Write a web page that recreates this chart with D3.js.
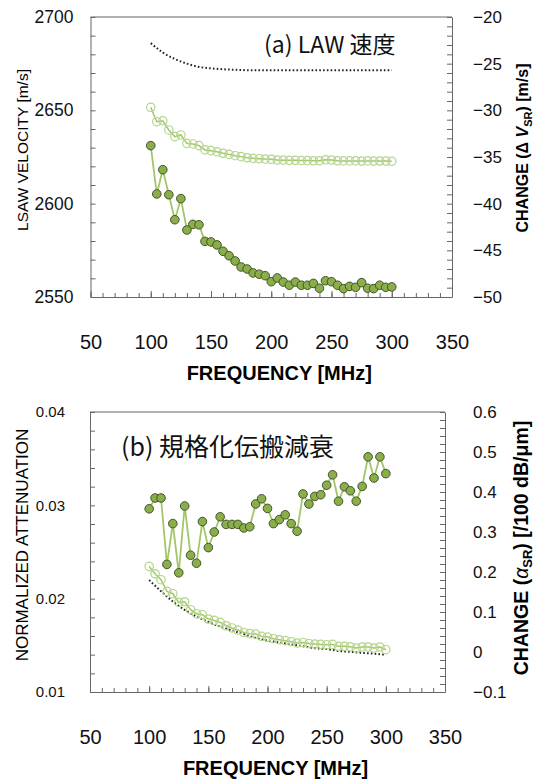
<!DOCTYPE html>
<html>
<head>
<meta charset="utf-8">
<script src="https://cdn.jsdelivr.net/npm/d3@7"></script>
<style>
  body { margin: 0; background: #fff; }
  svg { display: block; font-family: "Liberation Sans", Arial, sans-serif; }
</style>
</head>
<body>
<div id="chart"></div>
<script>
// frequencies (MHz)
var freq = [100, 105, 110, 115, 120, 125, 130, 135, 140, 145, 150, 155, 160, 165, 170, 175, 180, 185, 190, 195,
            200, 205, 210, 215, 220, 225, 230, 235, 240, 245, 250, 255, 260, 265, 270, 275, 280, 285, 290, 295, 300];
var freqCoarse = [100, 110, 120, 130, 140, 150, 160, 170, 180, 190, 200, 210, 220, 230, 240, 250, 260, 270, 280, 290, 300];

// (a) LSAW velocity [m/s]
var velMeasured = [2631.1, 2605.2, 2618.2, 2604.8, 2591.4, 2602.7, 2585.9, 2588.9, 2588.7, 2579.8, 2579.5,
                   2577.9, 2574.5, 2572.1, 2569.3, 2566.1, 2565.0, 2562.9, 2562.2, 2561.4, 2558.2, 2560.2,
                   2558.0, 2556.3, 2558.0, 2556.3, 2556.3, 2557.3, 2554.7, 2558.7, 2558.2, 2556.3, 2554.5,
                   2555.7, 2555.2, 2557.7, 2554.7, 2554.5, 2556.3, 2555.2, 2555.4];
var velCorrected = [2651.6, 2643.9, 2644.4, 2639.5, 2635.9, 2636.8, 2632.3, 2632.0, 2631.1, 2628.8, 2628.4,
                    2627.8, 2627.0, 2626.4, 2625.7, 2625.2, 2624.6, 2624.3, 2624.1, 2623.9, 2623.8, 2623.4,
                    2623.3, 2623.2, 2623.2, 2623.1, 2623.1, 2623.0, 2623.0, 2623.5, 2623.4, 2623.0, 2622.9,
                    2622.9, 2622.9, 2622.8, 2622.9, 2622.8, 2622.8, 2622.8, 2622.7];
// (a) change ΔV_SR [m/s]
var velChange = [-22.8, -23.8, -24.5, -25.0, -25.35, -25.5, -25.6, -25.65, -25.7, -25.7, -25.7,
                 -25.7, -25.7, -25.7, -25.7, -25.7, -25.7, -25.7, -25.7, -25.7, -25.7];

// (b) normalized attenuation
var attCorrected = [0.02346, 0.02267, 0.02203, 0.02078, 0.02053, 0.0196, 0.01967, 0.01882, 0.01839, 0.01828,
                    0.01782, 0.01767, 0.01746, 0.0171, 0.01686, 0.01664, 0.01638, 0.01625, 0.01621, 0.01596,
                    0.01589, 0.01571, 0.0156, 0.0155, 0.01539, 0.01525, 0.01531, 0.0152, 0.01514, 0.0151,
                    0.01507, 0.0151, 0.01489, 0.01489, 0.01485, 0.01471, 0.01482, 0.01482, 0.01471, 0.01482, 0.01453];
var attDiffraction = [0.0220, 0.0208, 0.0197, 0.0188, 0.0181, 0.0175, 0.0170, 0.0166, 0.0162, 0.0158, 0.0155,
                      0.0153, 0.0151, 0.0149, 0.0147, 0.0146, 0.0144, 0.0143, 0.0142, 0.0141, 0.0140];
// (b) change α_SR [/100 dB/μm]
var attChange = [0.358, 0.385, 0.385, 0.219, 0.321, 0.198, 0.365, 0.242, 0.222, 0.326, 0.261,
                 0.300, 0.338, 0.319, 0.319, 0.319, 0.310, 0.313, 0.370, 0.383, 0.359, 0.321,
                 0.331, 0.343, 0.321, 0.302, 0.395, 0.370, 0.389, 0.393, 0.417, 0.443, 0.377,
                 0.413, 0.403, 0.377, 0.414, 0.488, 0.435, 0.488, 0.446];

var xTicks = [50, 100, 150, 200, 250, 300, 350];

var W = 539, H = 783;
var axisColor = '#666';
var lineGreen = '#a3c66a';
var dotFill = '#8aae4a';
var dotStroke = '#44532a';
var openStroke = '#b4d48c';

var svg = d3.select('#chart').append('svg').attr('width', W).attr('height', H);

function drawPanel(p) {
    var g = svg.append('g');
    var x = d3.scaleLinear().domain([50, 350]).range([p.left, p.right]);
    var yL = d3.scaleLinear().domain(p.leftDomain).range([p.bottom, p.top]);
    var yR = d3.scaleLinear().domain(p.rightDomain).range([p.bottom, p.top]);

    // frame top
    g.append('line').attr('x1', p.left).attr('x2', p.right).attr('y1', p.top).attr('y2', p.top)
        .attr('stroke', axisColor);

    // x axis: minor ticks, major ticks, labels
    var xMinor = d3.range(50, 351, 10);
    g.append('g').attr('transform', 'translate(0,' + p.bottom + ')')
        .call(d3.axisBottom(x).tickValues(xMinor).tickSize(-4).tickSizeOuter(0).tickFormat(''))
        .call(function (a) { a.selectAll('line,path').attr('stroke', axisColor); });
    g.append('g').attr('transform', 'translate(0,' + p.bottom + ')')
        .call(d3.axisBottom(x).tickValues(xTicks).tickSize(-6).tickSizeOuter(0).tickPadding(38))
        .call(function (a) {
            a.select('.domain').remove();
            a.selectAll('line').attr('stroke', axisColor);
            a.selectAll('text').attr('font-size', 20).attr('fill', '#111');
        });

    // left axis
    g.append('g').attr('transform', 'translate(' + p.left + ',0)')
        .call(d3.axisLeft(yL).tickValues(p.leftMinor).tickSize(-5).tickSizeOuter(0).tickFormat(''))
        .call(function (a) { a.selectAll('line,path').attr('stroke', axisColor); });
    g.append('g').attr('transform', 'translate(' + p.left + ',0)')
        .call(d3.axisLeft(yL).tickValues(p.leftTicks).tickSize(0).tickPadding(p.leftPad).tickFormat(p.leftFmt))
        .call(function (a) {
            a.select('.domain').remove();
            a.selectAll('text').attr('font-size', p.leftFont).attr('fill', '#111');
        });

    // right axis
    g.append('g').attr('transform', 'translate(' + p.right + ',0)')
        .call(d3.axisRight(yR).tickValues(p.rightMinor).tickSize(-5).tickSizeOuter(0).tickFormat(''))
        .call(function (a) { a.selectAll('line,path').attr('stroke', axisColor); });
    g.append('g').attr('transform', 'translate(' + p.right + ',0)')
        .call(d3.axisRight(yR).tickValues(p.rightTicks).tickSize(0).tickPadding(p.rightPad).tickFormat(p.rightFmt))
        .call(function (a) {
            a.select('.domain').remove();
            a.selectAll('text').attr('font-size', 17).attr('fill', '#111');
        });

    // axis titles
    g.append('text').attr('x', (p.left + p.right) / 2 + 8).attr('y', p.bottom + 83)
        .attr('text-anchor', 'middle').attr('font-size', 20).attr('font-weight', 'bold')
        .text('FREQUENCY [MHz]');
    g.append('text').attr('transform', 'translate(28,' + p.leftTitleY + ') rotate(-90)')
        .attr('text-anchor', 'middle').attr('font-size', p.leftTitleFont).text(p.leftTitle);
    var rt = g.append('text').attr('transform', 'translate(528,' + p.rightTitleY + ') rotate(-90)')
        .attr('text-anchor', 'middle').attr('font-size', p.rightTitleFont).attr('font-weight', 'bold');
    p.rightTitle(rt);

    // panel caption
    g.append('text').attr('x', p.capX).attr('y', p.capY)
        .attr('font-family', '"Noto Sans CJK JP", sans-serif').attr('font-size', p.capFont)
        .attr('fill', '#111').text(p.caption);

    // dotted curve
    g.append('path').datum(p.dotted)
        .attr('fill', 'none').attr('stroke', '#222').attr('stroke-width', 2)
        .attr('stroke-dasharray', '1.6,2.2')
        .attr('d', d3.line().curve(d3.curveMonotoneX)
            .x(function (d, i) { return x(freqCoarse[i]); })
            .y(function (d) { return p.dottedScale === 'R' ? yR(d) : yL(d); }));

    // open circles series
    var yO = p.openScale === 'R' ? yR : yL;
    g.append('path').datum(p.open)
        .attr('fill', 'none').attr('stroke', lineGreen).attr('stroke-width', 1.5)
        .attr('d', d3.line().x(function (d, i) { return x(freq[i]); }).y(function (d) { return yO(d); }));
    g.selectAll('.open').data(p.open).enter().append('circle')
        .attr('cx', function (d, i) { return x(freq[i]); })
        .attr('cy', function (d) { return yO(d); })
        .attr('r', 4.2).attr('fill', 'none').attr('stroke', openStroke).attr('stroke-width', 1.2);

    // filled circles series
    var yF = p.filledScale === 'R' ? yR : yL;
    g.append('path').datum(p.filled)
        .attr('fill', 'none').attr('stroke', lineGreen).attr('stroke-width', 1.8)
        .attr('d', d3.line().x(function (d, i) { return x(freq[i]); }).y(function (d) { return yF(d); }));
    g.selectAll('.filled').data(p.filled).enter().append('circle')
        .attr('cx', function (d, i) { return x(freq[i]); })
        .attr('cy', function (d) { return yF(d); })
        .attr('r', 4.3).attr('fill', dotFill).attr('stroke', dotStroke).attr('stroke-width', 1);
}

drawPanel({
    left: 90.5, right: 452, top: 17, bottom: 297,
    leftDomain: [2550, 2700], rightDomain: [-50, -20],
    leftMinor: d3.range(2550, 2701, 10), leftTicks: [2550, 2600, 2650, 2700],
    leftPad: 17, leftFont: 17.5, leftFmt: d3.format('d'),
    rightMinor: d3.range(-50, -19, 1), rightTicks: [-50, -45, -40, -35, -30, -25, -20],
    rightPad: 21, rightFmt: d3.format('d'),
    leftTitle: 'LSAW VELOCITY [m/s]', leftTitleY: 150, leftTitleFont: 15.5,
    rightTitleY: 148, rightTitleFont: 16,
    rightTitle: function (t) {
        t.append('tspan').text('CHANGE (Δ ');
        t.append('tspan').attr('font-style', 'italic').text('V');
        t.append('tspan').attr('font-size', 11).attr('dy', 4).text('SR');
        t.append('tspan').attr('dy', -4).text(') [m/s]');
    },
    caption: '(a) LAW 速度', capX: 264, capY: 53, capFont: 23,
    dotted: velChange, dottedScale: 'R',
    open: velCorrected, openScale: 'L',
    filled: velMeasured, filledScale: 'L'
});

drawPanel({
    left: 90, right: 445, top: 412, bottom: 692,
    leftDomain: [0.01, 0.04], rightDomain: [-0.1, 0.6],
    leftMinor: d3.range(0, 16).map(function (i) { return 0.01 + i * 0.002; }),
    leftTicks: [0.01, 0.02, 0.03, 0.04],
    leftPad: 25, leftFont: 15, leftFmt: d3.format('.2f'),
    rightMinor: d3.range(0, 36).map(function (i) { return -0.1 + i * 0.02; }),
    rightTicks: [-0.1, 0, 0.1, 0.2, 0.3, 0.4, 0.5, 0.6],
    rightPad: 28, rightFmt: function (d) { return d === 0 ? '0' : d3.format('.1f')(d); },
    leftTitle: 'NORMALIZED ATTENUATION', leftTitleY: 545, leftTitleFont: 17,
    rightTitleY: 548, rightTitleFont: 19.5,
    rightTitle: function (t) {
        t.append('tspan').text('CHANGE (');
        t.append('tspan').attr('font-style', 'italic').attr('font-weight', 'normal').text('α');
        t.append('tspan').attr('font-size', 13).attr('dy', 4).text('SR');
        t.append('tspan').attr('dy', -4).text(') [/100 dB/μm]');
    },
    caption: '(b) 規格化伝搬減衰', capX: 121, capY: 456, capFont: 25,
    dotted: attDiffraction, dottedScale: 'L',
    open: attCorrected, openScale: 'L',
    filled: attChange, filledScale: 'R'
});
</script>
</body>
</html>
